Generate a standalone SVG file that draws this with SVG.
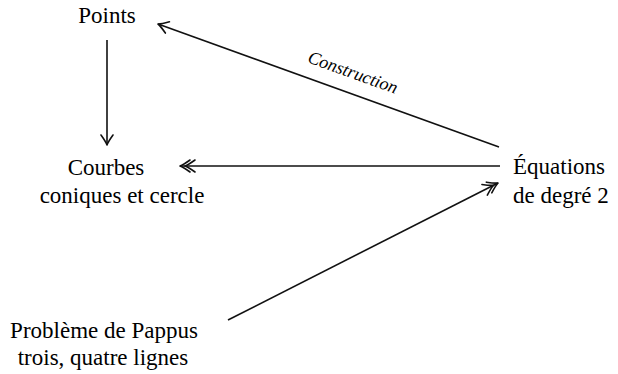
<svg xmlns="http://www.w3.org/2000/svg" width="618" height="374" viewBox="0 0 618 374">
<defs>
<marker id="to" markerUnits="userSpaceOnUse" viewBox="-12 -8 14 16" markerWidth="14" markerHeight="16" refX="0" refY="0" orient="auto">
<path d="M -10 -6 Q -3 -1 0 0 Q -3 1 -10 6" stroke="#111" stroke-width="1.6" fill="none" stroke-linecap="round" stroke-linejoin="round"/>
</marker>
<marker id="to2" markerUnits="userSpaceOnUse" viewBox="-17 -8 19 16" markerWidth="19" markerHeight="16" refX="0" refY="0" orient="auto">
<path d="M -10 -6 Q -3 -1 0 0 Q -3 1 -10 6 M -15 -6 Q -8 -1 -5 0 Q -8 1 -15 6" stroke="#111" stroke-width="1.6" fill="none" stroke-linecap="round" stroke-linejoin="round"/>
</marker>
</defs>
<g id="points"><text style="font-family:'Liberation Serif','Times New Roman',serif;font-size:23px" x="107" y="23" text-anchor="middle">Points</text></g>
<g id="courbes"><text style="font-family:'Liberation Serif','Times New Roman',serif;font-size:23px" x="106" y="175" text-anchor="middle">Courbes</text><text style="font-family:'Liberation Serif','Times New Roman',serif;font-size:23px" x="122" y="203" text-anchor="middle">coniques et cercle</text></g>
<g id="equations"><text style="font-family:'Liberation Serif','Times New Roman',serif;font-size:23px" x="513" y="174">Équations</text><text style="font-family:'Liberation Serif','Times New Roman',serif;font-size:23px" x="513" y="203">de degré 2</text></g>
<g id="pappus"><text style="font-family:'Liberation Serif','Times New Roman',serif;font-size:23px" x="104" y="338" text-anchor="middle">Problème de Pappus</text><text style="font-family:'Liberation Serif','Times New Roman',serif;font-size:23px" x="103" y="365" text-anchor="middle">trois, quatre lignes</text></g>
<g id="connectors" stroke="#111" stroke-width="1.6" fill="none">
<line x1="107" y1="40" x2="107" y2="145" marker-end="url(#to)"/>
<line x1="499" y1="147" x2="158" y2="24" marker-end="url(#to)"/>
<line x1="500" y1="166" x2="180" y2="166" marker-end="url(#to2)"/>
<line x1="228" y1="320" x2="498" y2="183" marker-end="url(#to2)"/>
</g>
<g id="label"><text style="font-family:'Liberation Serif','Times New Roman',serif;font-style:italic;font-size:18px" transform="translate(351,78) rotate(19.8)" text-anchor="middle">Construction</text></g>
</svg>
